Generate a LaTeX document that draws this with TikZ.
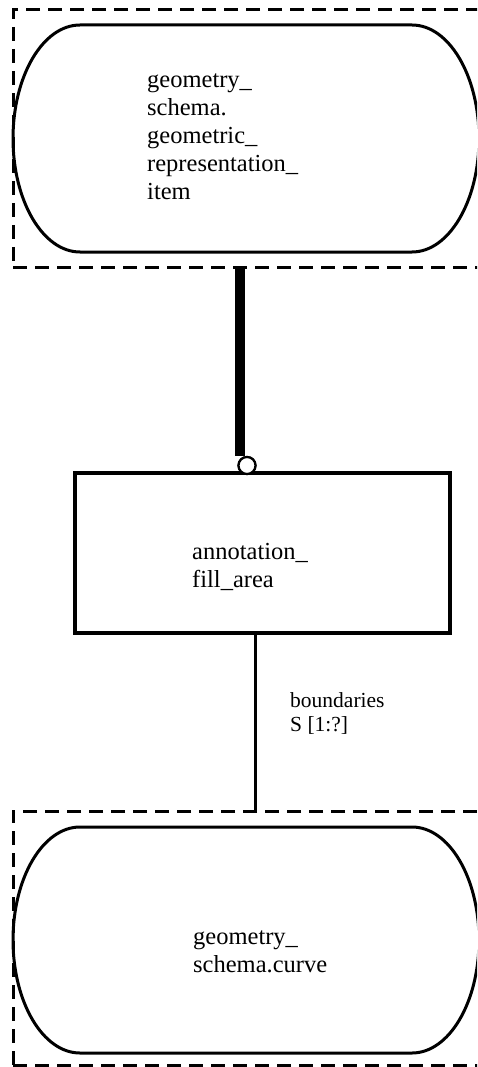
\documentclass[tikz,border=0pt]{standalone}
\usepackage{fontspec}
\setmainfont{Liberation Serif}
\usepackage{tikz}
\usetikzlibrary{positioning,calc}

\newcommand{\entfont}{\fontsize{24.5}{28}\selectfont}
\newcommand{\rolefont}{\fontsize{21.5}{23.5}\selectfont}

\begin{document}
\begin{tikzpicture}[
    x=1pt, y=1pt,
    schemaframe/.style={draw, line width=3pt, dash pattern=on 14pt off 8pt, anchor=north west, inner sep=0pt, outer sep=0pt},
    entline/.style={line width=3pt},
    entitybox/.style={draw, line width=3.5pt, anchor=north west, inner sep=0pt, outer sep=0pt, minimum width=375pt, minimum height=160pt},
    enttext/.style={font=\entfont, align=left, anchor=base west, inner sep=0pt},
    roletext/.style={font=\rolefont, align=left, anchor=base west, inner sep=0pt},
    supline/.style={line width=10pt},
    optcircle/.style={circle, draw, line width=2.2pt, fill=white, minimum size=17pt, inner sep=0pt}
]
\useasboundingbox (0,0) rectangle (477,-1067);
\clip (0,0) rectangle (477,-1067);

% Schema frames
\node[schemaframe, minimum width=490pt, minimum height=257pt] (geomframe) at (13,-10) {};
\node[schemaframe, minimum width=490pt, minimum height=254pt] (curveframe) at (13,-811) {};

% Entities
\draw[entline] (80,-25) -- (412,-25) arc[start angle=90, end angle=-90, x radius=67pt, y radius=113.5pt]
    -- (80,-252) arc[start angle=270, end angle=90, x radius=67pt, y radius=113.5pt] -- cycle;
\node[enttext] (geomitem) at (147,-200) {geometry\_\\schema.\\geometric\_\\representation\_\\item};

\node[entitybox] (fillarea) at (75,-473) {};
\node[enttext] (fillareatext) at (192,-587) {annotation\_\\fill\_area};

\draw[entline] (80,-827) -- (412,-827) arc[start angle=90, end angle=-90, x radius=67pt, y radius=113pt]
    -- (80,-1053) arc[start angle=270, end angle=90, x radius=67pt, y radius=113pt] -- cycle;
\node[enttext] (curve) at (193,-972) {geometry\_\\schema.curve};

% Subtype relation
\node[optcircle] (optcirc) at (247,-465.5) {};
\draw[supline] ([xshift=-7.5pt]optcirc.north |- geomframe.south) -- ([xshift=-7.5pt]optcirc.north);
\node[optcircle] at (optcirc) {};

% Attribute relation
\draw[entline] ([xshift=-7pt]fillarea.south) -- ([xshift=-7pt]fillarea.south |- curveframe.north);
\node[roletext] (bndlabel) at (290,-731) {boundaries\\S [1:?]};

\end{tikzpicture}
\end{document}
